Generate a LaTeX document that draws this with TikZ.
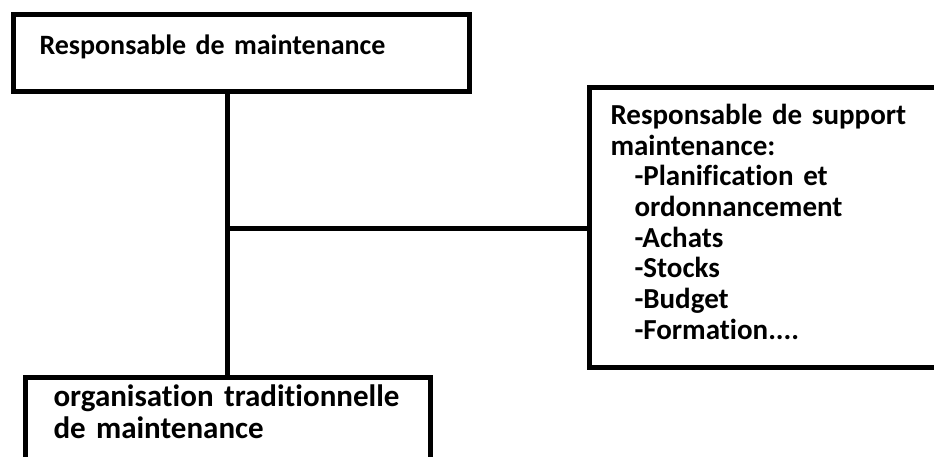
\documentclass[tikz,border=0pt]{standalone}
\usepackage{fontspec}
\setmainfont{Carlito}[Ligatures=NoCommon]
\begin{document}
\begin{tikzpicture}[x=1pt,y=1pt,
	box/.style={draw=black,line width=5pt,rectangle,anchor=north west,align=left,
		font=\bfseries\fontsize{28}{30}\selectfont},
	link/.style={draw=black,line width=5pt}]
	\useasboundingbox (0,0) rectangle (934,-457);
	\node [box,minimum width=456,minimum height=77,inner xsep=26,text width=404,text depth=16] (chef) at (11,-12)
		{Responsable de maintenance};
	\node [box,minimum width=370,minimum height=279.5,inner xsep=21,text width=328,text height=22,text depth=228.5,
		font=\bfseries\fontsize{29}{30.7}\selectfont] (support) at (587,-85.5)
		{Responsable de support\\maintenance:\\
		\hspace*{24pt}-Planification et\\
		\hspace*{24pt}ordonnancement\\
		\hspace*{24pt}-Achats\\
		\hspace*{24pt}-Stocks\\
		\hspace*{24pt}-Budget\\
		\hspace*{24pt}-Formation....};
	\node [box,minimum width=405,inner xsep=28,inner ysep=8,text width=349,text depth=60,
		font=\bfseries\fontsize{31}{32}\selectfont] (trad) at (23,-374.5)
		{organisation traditionnelle\\de maintenance};
	\coordinate (j) at (227,-228);
	\draw [link] (j |- chef.south) -- (j |- trad.north);
	\draw [link] (j) -- (j -| support.west);
\end{tikzpicture}
\end{document}
